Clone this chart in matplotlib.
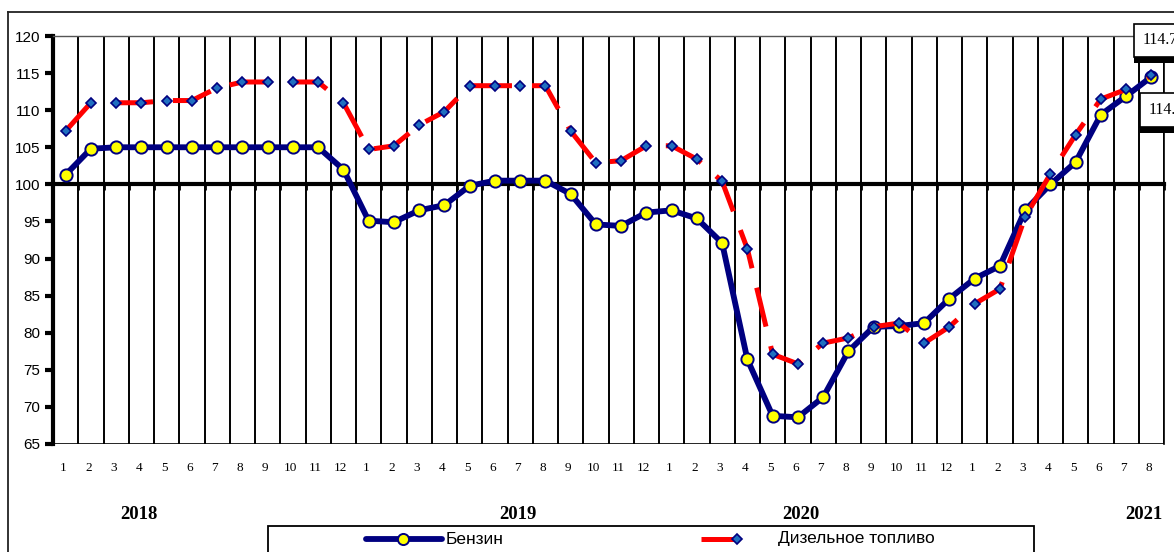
import numpy as np
import matplotlib
matplotlib.use('Agg')
import matplotlib.pyplot as plt
import matplotlib.transforms as mtransforms
import matplotlib.patheffects as pe
from matplotlib.lines import Line2D
from matplotlib.patches import Rectangle

# monthly index values (same month of previous year = 100)
months = [str(m) for m in range(1, 13)] * 3 + [str(m) for m in range(1, 9)]
years = ['2018', '2019', '2020', '2021']
year_pos = [2.9, 17.9, 29.1, 42.7]

benzin = [101.3, 104.8, 105.0, 105.0, 105.0, 105.0, 105.0, 105.0, 105.0, 105.0, 105.0, 102.0,
          95.1, 94.9, 96.5, 97.2, 99.8, 100.5, 100.5, 100.5, 98.7, 94.6, 94.4, 96.2,
          96.5, 95.4, 92.1, 76.4, 68.8, 68.6, 71.3, 77.5, 80.8, 80.9, 81.3, 84.6,
          87.3, 89.0, 96.5, 100.0, 103.0, 109.4, 111.9, 114.5]
diesel = [107.2, 111.0, 111.0, 111.0, 111.3, 111.3, 113.0, 113.8, 113.8, 113.8, 113.8, 111.0,
          104.7, 105.2, 108.0, 109.8, 113.3, 113.3, 113.3, 113.3, 107.2, 102.9, 103.2, 105.2,
          105.2, 103.4, 100.4, 91.3, 77.1, 75.8, 78.6, 79.3, 80.8, 81.3, 78.6, 80.8,
          83.9, 85.9, 95.6, 101.4, 106.7, 111.5, 112.8, 114.7]

W, H = 1174, 552
fig = plt.figure(figsize=(W / 100, H / 100), dpi=100)
ax = fig.add_axes([53 / W, 1 - 444 / H, (1164 - 53) / W, (444 - 36) / H])

x = np.arange(len(benzin))

ax.plot(x, benzin, color='#000080', lw=4.2, marker='o', ms=8.8, mfc='#ffff00',
        mec='#000080', mew=1.4, zorder=4, solid_capstyle='round')
ax.plot(x, diesel, color='#ff0000', lw=3.6, dashes=(8, 4), zorder=5,
        marker='D', ms=5.5, mfc='#1f6fc0', mec='#000080', mew=1.2)

ax.set_xlim(-0.5, len(benzin) - 0.5)
ax.set_ylim(65, 120)

# x axis crosses at 100
ax.spines['bottom'].set_position(('data', 100))
ax.spines['bottom'].set_linewidth(3)
ax.spines['left'].set_linewidth(3)
ax.spines['top'].set_color('#555555')
ax.spines['top'].set_linewidth(1)
ax.spines['right'].set_linewidth(1.2)
ax.axhline(65, color='black', lw=1.2, zorder=1)

ax.set_xticks(np.arange(-0.5, len(benzin), 1))
ax.tick_params(axis='x', direction='out', length=4, width=2, labelbottom=False)
ax.grid(axis='x', color='black', lw=1.4, zorder=0)

ax.set_yticks(np.arange(65, 121, 5))
ax.tick_params(axis='y', direction='out', length=6, width=3, pad=3)
for lab in ax.get_yticklabels():
    lab.set_fontfamily('Liberation Sans')
    lab.set_fontsize(11)

trans = mtransforms.blended_transform_factory(ax.transData, ax.transAxes)
for i, m in enumerate(months):
    ax.text(i - 0.1, -0.059, m, transform=trans, ha='center', va='center',
            fontsize=9.5, family='Liberation Serif')
for xp, yr in zip(year_pos, years):
    ax.text(xp, -0.174, yr, transform=trans, ha='center', va='center',
            fontsize=13.5, family='Liberation Serif', fontweight='bold')

# value labels at the last point
shadow = [pe.withSimplePatchShadow(offset=(0, -4), shadow_rgbFace='black', alpha=1)]
t1 = ax.annotate(f'{diesel[-1]:.1f}', xy=(x[-1], diesel[-1]), xytext=(42.66, 119.4),
                 ha='left', va='center', fontsize=11.5, family='Liberation Serif',
                 annotation_clip=False, zorder=6,
                 bbox=dict(boxstyle='square,pad=0.55', fc='white', ec='black', lw=1.2))
t2 = ax.annotate(f'{benzin[-1]:.1f}', xy=(x[-1], benzin[-1]), xytext=(42.88, 110.0),
                 ha='left', va='center', fontsize=11.5, family='Liberation Serif',
                 annotation_clip=False, zorder=6,
                 bbox=dict(boxstyle='square,pad=0.55', fc='white', ec='black', lw=1.2))
for t in (t1, t2):
    t.get_bbox_patch().set_path_effects(shadow)

# outer frame
def fx(px):
    return px / W

def fy(py):
    return 1 - py / H

fig.add_artist(Line2D([fx(8), fx(8)], [fy(12), fy(H + 5)], color='#222222', lw=1.3))
fig.add_artist(Line2D([fx(8), fx(W + 5)], [fy(12), fy(12)], color='#222222', lw=1.3))

# legend box
fig.add_artist(Rectangle((fx(268), fy(H + 10)), fx(1034) - fx(268), fy(526) - fy(H + 10),
                         transform=fig.transFigure, fc='white', ec='black', lw=1.3))
fig.add_artist(Line2D([fx(366), fx(442)], [fy(539), fy(539)], color='#000080', lw=4.2,
                      solid_capstyle='round'))
fig.add_artist(Line2D([fx(403)], [fy(539)], marker='o', ms=8, mfc='#ffff00',
                      mec='#000080', mew=1.4))
fig.text(fx(446), fy(539), 'Бензин', ha='left', va='center', fontsize=12.5,
         family='Liberation Sans')
fig.add_artist(Line2D([fx(701), fx(775)], [fy(539), fy(539)], color='#ff0000', lw=3.6,
                      dashes=(7.5, 7.5)))
fig.add_artist(Line2D([fx(737)], [fy(539)], marker='D', ms=5.5, mfc='#1f6fc0',
                      mec='#000080', mew=1.2))
fig.text(fx(778), fy(539), 'Дизельное топливо', ha='left', va='center', fontsize=12.5,
         family='Liberation Sans')

fig.savefig('out.png', dpi=100)
